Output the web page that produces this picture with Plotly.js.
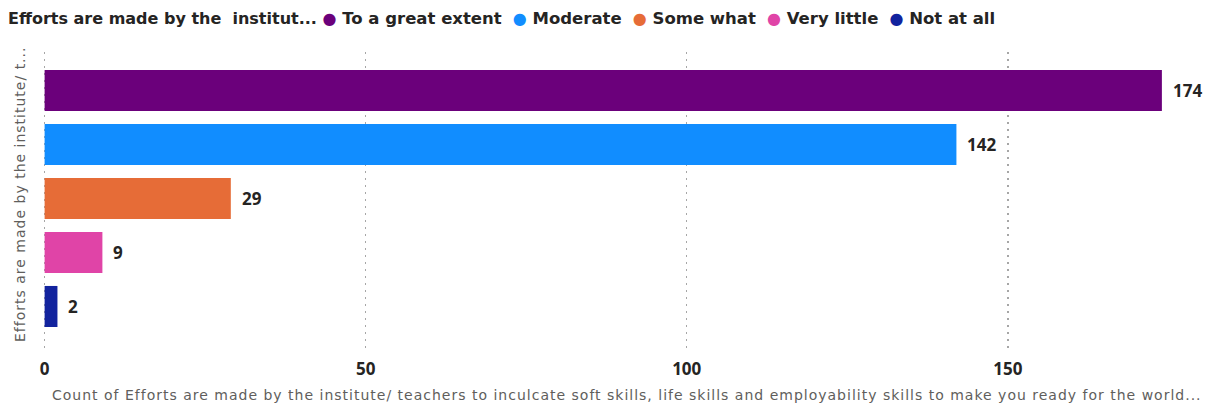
<!DOCTYPE html>
<html>
<head>
<meta charset="utf-8">
<script src="https://cdn.plot.ly/plotly-3.0.1.min.js"></script>
<style>html,body{margin:0;padding:0;background:#fff;}#chart{width:1214px;height:405px;}</style>
</head>
<body>
<div id="chart"></div>
<script>
const categories = ["To a great extent", "Moderate", "Some what", "Very little", "Not at all"];
const counts = [174, 142, 29, 9, 2];
const colors = ["#6B007B", "#118DFF", "#E66C37", "#E044A7", "#12239E"];
const legendTitle = "Efforts are made by the  institut...";
const yTitle = "Efforts are made by the institute/ t...";
const xTitle = "Count of Efforts are made by the institute/ teachers to inculcate soft skills, life skills and employability skills to make you ready for the world...";
const xTicks = [0, 50, 100, 150];

const NUMFONT = "Open Sans, DejaVu Sans, sans-serif";
const TXTFONT = "DejaVu Sans, sans-serif";

const traces = [{
  type: "bar", orientation: "h",
  y: categories, x: counts,
  marker: {color: colors},
  showlegend: false, hoverinfo: "x+y", width: 0.76
}];

const annotations = categories.map((c, i) => ({
  x: counts[i], y: c, xref: "x", yref: "y",
  text: String(counts[i]), showarrow: false,
  xanchor: "left", yanchor: "middle", xshift: 9,
  font: {family: NUMFONT, size: 17, color: "#252423", weight: 700}
}));
annotations.push({
  xref: "paper", yref: "paper", x: -23 / 1151, y: (352 - 195) / 300,
  xanchor: "center", yanchor: "middle", textangle: -90, showarrow: false,
  text: '<span style="letter-spacing:1px">' + yTitle + '</span>',
  font: {family: TXTFONT, size: 14, color: "#605E5C"}
});
annotations.push({
  xref: "paper", yref: "paper", x: (627 - 43) / 1151, y: (352 - 395) / 300,
  xanchor: "center", yanchor: "middle", showarrow: false,
  text: '<span style="letter-spacing:1px">' + xTitle + '</span>',
  font: {family: TXTFONT, size: 14, color: "#605E5C"}
});

const legendText = "<b>" + legendTitle + "</b>&nbsp;" +
  categories.map((c, i) => '<span style="color:' + colors[i] + '">●</span><span style="font-size:16.5px">&nbsp;' + c + '</span>').join("&nbsp;&nbsp;");

const layout = {
  width: 1214, height: 405,
  paper_bgcolor: "#fff", plot_bgcolor: "#fff",
  margin: {l: 43, r: 20, t: 52, b: 53},
  showlegend: false,
  title: {
    text: legendText, xref: "container", x: 8 / 1214, xanchor: "left",
    yref: "container", y: 1 - 18 / 405, yanchor: "middle",
    font: {family: TXTFONT, size: 16, color: "#252423", weight: 700}
  },
  annotations: annotations,
  xaxis: {
    range: [-0.25, 179], tickvals: xTicks, ticktext: xTicks.map(String),
    showgrid: true, gridcolor: "#a6a6a6", griddash: "2px,5px", gridwidth: 1.5,
    zeroline: false, showline: false,
    tickfont: {family: NUMFONT, size: 17, color: "#252423", weight: 700},
    ticks: "", ticklabelstandoff: 5
  },
  yaxis: {
    type: "category", categoryorder: "array", categoryarray: categories,
    range: [4.843, -0.713], showticklabels: false, showgrid: false, zeroline: false, ticks: ""
  }
};
Plotly.newPlot("chart", traces, layout, {displayModeBar: false, staticPlot: true});
</script>
</body>
</html>
